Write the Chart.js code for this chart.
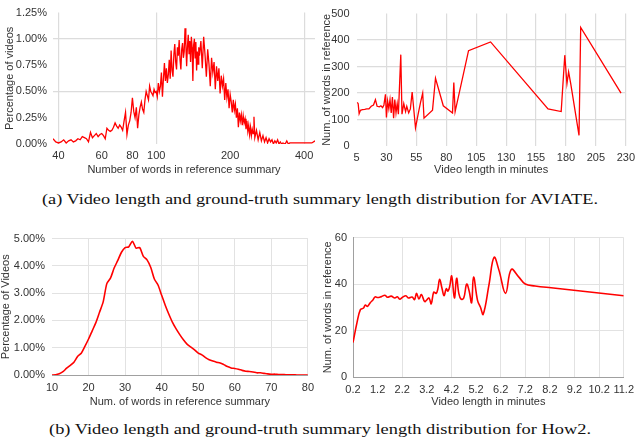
<!DOCTYPE html>
<html><head><meta charset="utf-8">
<script src="https://cdn.jsdelivr.net/npm/chart.js@4.4.1/dist/chart.umd.min.js"></script>
<style>
html,body{margin:0;padding:0;background:#fff;}
body{width:640px;height:439px;position:relative;overflow:hidden;}
canvas{position:absolute;}
.cap{position:absolute;left:0;width:640px;text-align:center;font-family:"Liberation Serif","DejaVu Serif",serif;font-size:15px;color:#111;white-space:nowrap;line-height:1;}
.cap span{display:inline-block;transform-origin:center;}
</style></head><body>
<canvas id="c1" width="320" height="180" style="left:0;top:0"></canvas>
<canvas id="c2" width="322" height="180" style="left:318px;top:0"></canvas>
<div class="cap" id="capA" style="top:192px"><span>(a) Video length and ground-truth summary length distribution for AVIATE.</span></div>
<canvas id="c3" width="320" height="185" style="left:0;top:225px"></canvas>
<canvas id="c4" width="322" height="185" style="left:318px;top:225px"></canvas>
<div class="cap" id="capB" style="top:422px"><span>(b) Video length and ground-truth summary length distribution for How2.</span></div>
<script>
// ---------- (a) left: AVIATE summary length distribution ----------
const aviateWords = [38,39,40,41,42,43,44,45,46,47,48,49,
50,51,52,53,54,55,56,57,58,59,60,61,62,63,64,65,66,67,68,69,
70,71,72,73,74,75,76,77,78,79,80,81,82,83,84,85,86,87,88,89,
90,91,92,93,94,95,96,97,98,99,100,101,102,103,104,105,106,107,108,109,
110,111,112,113,114,115,116,117,118,119,120,121,122,123,124,125,126,127,128,129,
130,131,132,133,134,135,136,137,138,139,140,141,142,143,144,145,146,147,148,149,
150,152,154,156,158,160,162,164,166,168,170,172,174,176,178,180,182,184,186,188,
190,192,194,196,198,200,202,204,206,208,210,212,214,216,218,220,222,224,226,228,
230,232,234,236,238,240,242,244,246,248,250,
252,256,260,264,268,272,276,280,284,288,292,296,300,304,308,312,316,320,324,328,
335,340,345,350,360,370,380,390,400,410,420,430,443];
const aviatePct = [0.05,0.02,0.01,0.02,0.04,0.01,0.03,0.04,0.02,0.03,0.05,0.04,
0.07,0.06,0.05,0.02,0.11,0.06,0.08,0.10,0.07,0.09,0.10,0.08,0.05,0.15,0.13,0.12,0.13,0.16,0.20,0.17,
0.15,0.18,0.16,0.13,0.22,0.30,0.09,0.18,0.22,0.30,0.44,0.31,0.25,0.35,0.15,0.28,0.35,0.40,0.33,0.30,
0.42,0.50,0.46,0.42,0.55,0.50,0.48,0.46,0.52,0.49,0.50,0.45,0.58,0.50,0.55,0.68,0.45,0.62,0.77,0.60,
0.72,0.58,0.66,0.80,0.62,0.89,0.70,0.64,0.85,0.95,0.78,0.71,0.92,0.84,0.99,0.80,0.71,0.90,0.96,0.82,
0.88,1.10,0.95,0.74,0.93,1.04,0.86,0.98,0.78,1.02,0.92,0.60,0.94,1.00,0.82,0.97,0.70,0.88,0.76,0.92,
0.84,0.98,0.72,1.02,0.85,0.64,0.90,0.76,0.55,0.82,0.68,0.78,0.52,0.74,0.60,0.72,0.48,0.65,0.55,0.62,
0.42,0.58,0.44,0.52,0.34,0.47,0.40,0.30,0.42,0.32,0.38,0.25,0.34,0.16,0.30,0.22,0.28,0.18,0.27,0.20,
0.24,0.14,0.22,0.12,0.18,0.09,0.16,0.08,0.14,0.10,0.26,
0.06,0.13,0.04,0.11,0.03,0.08,0.02,0.06,0.01,0.05,0.02,0.04,0.00,0.03,0.01,0.04,0.00,0.02,0.00,0.01,
0.00,0.03,0.00,0.01,0.01,0.01,0.01,0.01,0.01,0.01,0.01,0.01,0.03];
const aviateWordTicks = [40,60,80,100,200,400];
const aviateWordGrid = [40,100,400];

// ---------- (a) right: AVIATE video length vs summary words ----------
const aviateMinutes = [5.6,6.4,7.2,8.3,10,11.9,13.5,15.4,17.3,19.2,20.8,22.2,24.1,25.4,26.8,27.9,
29.2,30,31,32,33,34,35,36,37,38,39,40,42,43,44.5,46,47,48.6,50,51.5,54.3,56.5,58.5,60.3,61.4,
68.5,71,77.5,85.2,86.3,87.4,98.6,117,165,176,179,180.8,182.2,184,190.9,192.3,226];
const aviateRefWords = [165,160,122,135,137,138,140,140,150,155,175,150,148,152,145,155,
195,108,170,140,175,125,185,105,175,125,160,120,345,120,160,130,150,125,140,204,68,120,165,200,105,
135,256,152,125,240,130,360,393,140,130,343,235,280,235,40,448,200];
const aviateMinuteTicks = [5,30,55,80,105,130,155,180,205,230];

// ---------- (b) left: How2 summary length distribution ----------
const how2Words = [10,11,12,13,14,15,16,17,18,19,20,21,22,23,24,25,26,27,28,29,30,31,32,33,34,35,36,37,38,39,
40,41,42,43,44,45,46,47,48,49,50,51,52,53,54,55,56,57,58,59,60,61,62,63,64,65,66,67,68,69,
70,71,72,73,74,75,76,77,78,79,80];
const how2Pct = [0.00,0.01,0.05,0.12,0.25,0.35,0.47,0.68,0.80,1.05,1.32,1.62,1.92,2.30,2.68,3.35,3.55,3.92,4.20,4.50,
4.67,4.70,4.90,4.65,4.67,4.35,4.22,3.95,3.52,3.30,2.92,2.55,2.22,1.92,1.68,1.47,1.28,1.12,1.02,0.92,
0.80,0.74,0.64,0.56,0.51,0.47,0.44,0.38,0.31,0.26,0.24,0.21,0.17,0.14,0.13,0.11,0.08,0.08,0.06,0.04,
0.03,0.03,0.02,0.02,0.01,0.01,0.01,0.00,0.00,0.00,0.00];

// ---------- (b) right: How2 video length vs summary words ----------
const how2Minutes = [0.2,0.36,0.5,0.63,0.7,0.79,0.9,1.0,1.1,1.2,1.35,1.5,1.6,1.75,1.9,2.0,2.1,2.2,2.35,2.45,
2.6,2.7,2.78,2.88,2.98,3.11,3.2,3.29,3.38,3.48,3.58,3.65,3.72,3.82,3.9,3.99,4.06,4.13,4.21,4.32,
4.41,4.5,4.59,4.7,4.82,4.92,5.02,5.1,5.26,5.38,5.49,5.73,5.93,6.13,6.4,6.63,6.94,7.2,7.6,8.25,11.2];
const how2RefWords = [14.8,23.3,29,29.7,31,30.4,32,33,34.5,34.2,34.6,35.2,34.3,34.8,34,34.5,33.5,34.2,35,34,
34.4,33.3,36,33.6,35.5,32.5,33.2,34,31.5,36.5,36,38,42,38,35,38,37,39,43.5,34,
42.5,36,33.5,34,40,37,32,43,33,30,27,40,51.5,46,36,46.3,43,40,39.2,38.4,35];
const how2MinuteTicks = [0.2,1.2,2.2,3.2,4.2,5.2,6.2,7.2,8.2,9.2,10.2,11.2];
const how2MinuteGrid = [2.2,4.2,6.2,7.2,8.2,9.2,10.2,11.2];

// ---------- drawing ----------
Chart.defaults.font.family = '"Liberation Sans", Arial, sans-serif';
Chart.defaults.font.size = 11;
Chart.defaults.color = '#333';
const NONE = 'rgba(0,0,0,0)';
const pts = (xs, ys) => xs.map((x, i) => ({x: x, y: ys[i]}));
const base = (padding) => ({
  responsive: false, animation: false, events: [],
  plugins: {legend: {display: false}, tooltip: {enabled: false}},
  layout: {padding: padding}
});
const ds = (data, w, tension) => ({data: data, borderColor: '#ff0000', borderWidth: w,
  pointRadius: 0, tension: tension, fill: false});

// (a) left
new Chart(document.getElementById('c1'), {
  type: 'line',
  data: {datasets: [ds(pts(aviateWords, aviatePct), 1.3, 0)]},
  options: Object.assign(base({left: 0, right: 5, top: 8, bottom: 0}), {
    scales: {
      x: {type: 'logarithmic', min: 38, max: 443,
        afterBuildTicks: s => { s.ticks = aviateWordTicks.map(v => ({value: v})); },
        ticks: {autoSkip: false, maxRotation: 0, padding: 5, callback: v => String(v)},
        grid: {drawTicks: false, lineWidth: 1.2, color: c => (c.tick && aviateWordGrid.includes(c.tick.value)) ? '#dcdcdc' : NONE},
        border: {display: false},
        title: {display: true, text: 'Number of words in reference summary', padding: {top: 0, bottom: 3.4}},
        afterFit: s => { s.height = 36; }},
      y: {min: 0, max: 1.25,
        ticks: {stepSize: 0.25, padding: 6, callback: v => v.toFixed(2) + '%'},
        grid: {drawTicks: false, lineWidth: 1.2, color: c => (c.tick && c.tick.value > 0.01 && c.tick.value < 1.2 && Math.round(c.tick.value * 100) % 50 === 0) ? '#dcdcdc' : NONE},
        border: {display: false},
        title: {display: true, text: 'Percentage of videos', padding: {top: 3.4, bottom: 0}},
        afterFit: s => { s.width = 53; }}
    }
  })
});

// (a) right
new Chart(document.getElementById('c2'), {
  type: 'line',
  data: {datasets: [ds(pts(aviateMinutes, aviateRefWords), 1.3, 0)]},
  options: Object.assign(base({left: 0, right: 9, top: 4, bottom: 0}), {
    scales: {
      x: {type: 'linear', min: 5, max: 230,
        afterBuildTicks: s => { s.ticks = aviateMinuteTicks.map(v => ({value: v})); },
        ticks: {autoSkip: false, maxRotation: 0, padding: 5, callback: v => String(v)},
        grid: {drawTicks: false, lineWidth: 1.2, color: c => (c.tick && c.tick.value > 5) ? '#dcdcdc' : NONE},
        border: {display: false},
        title: {display: true, text: 'Video length in minutes', padding: {top: 0, bottom: 3.4}},
        afterFit: s => { s.height = 34; }},
      y: {min: 0, max: 500,
        ticks: {stepSize: 100, padding: 7},
        grid: {drawTicks: false, lineWidth: 1.2, color: c => (c.tick && c.tick.value > 0 && c.tick.value < 500) ? '#dcdcdc' : NONE},
        border: {display: false},
        title: {display: true, text: 'Num. of words in reference', padding: {top: 2.4, bottom: 0}},
        afterFit: s => { s.width = 38.5; }}
    }
  })
});

// (b) left
new Chart(document.getElementById('c3'), {
  type: 'line',
  data: {datasets: [ds(pts(how2Words, how2Pct), 1.6, 0.25)]},
  options: Object.assign(base({left: 0, right: 8, top: 12, bottom: 0}), {
    scales: {
      x: {type: 'linear', min: 10, max: 80,
        ticks: {stepSize: 10, autoSkip: false, maxRotation: 0, padding: 6},
        grid: {drawTicks: false, color: c => (c.tick && c.tick.value > 10) ? '#e2e2e2' : NONE},
        border: {display: true, color: '#a0a0a0', width: 1},
        title: {display: true, text: 'Num. of words in reference summary', padding: {top: 0, bottom: 1.4}},
        afterFit: s => { s.height = 35; }},
      y: {min: 0, max: 5,
        ticks: {stepSize: 1, padding: 7, callback: v => v.toFixed(2) + '%'},
        grid: {drawTicks: false, color: c => (c.tick && c.tick.value > 0) ? '#e2e2e2' : NONE},
        border: {display: false},
        title: {display: true, text: 'Percentage of Videos', font: {lineHeight: 1}, padding: {top: 0, bottom: 0}},
        afterFit: s => { s.width = 52; }}
    }
  })
});

// (b) right
new Chart(document.getElementById('c4'), {
  type: 'line',
  data: {datasets: [ds(pts(how2Minutes, how2RefWords), 1.6, 0.4)]},
  options: Object.assign(base({left: 0, right: 13, top: 10, bottom: 0}), {
    scales: {
      x: {type: 'linear', min: 0.2, max: 11.2,
        afterBuildTicks: s => { s.ticks = how2MinuteTicks.map(v => ({value: v})); },
        ticks: {autoSkip: false, maxRotation: 0, padding: 6, callback: v => Number(v).toFixed(1)},
        grid: {drawTicks: false, color: c => (c.tick && how2MinuteGrid.includes(c.tick.value)) ? '#e2e2e2' : NONE},
        border: {display: true, color: '#a0a0a0', width: 1},
        title: {display: true, text: 'Video length in minutes', padding: {top: 0, bottom: 1.4}},
        afterFit: s => { s.height = 33; }},
      y: {min: 0, max: 60,
        ticks: {stepSize: 20, padding: 6},
        grid: {drawTicks: false, color: c => (c.tick && c.tick.value > 0) ? '#e2e2e2' : NONE},
        border: {display: true, color: '#a0a0a0', width: 1},
        title: {display: true, text: 'Num. of words in reference', padding: {top: 3, bottom: 0}},
        afterFit: s => { s.width = 35; }}
    }
  })
});

// captions: stretch horizontally to the reference width
function fitCap(id, target) {
  const s = document.querySelector('#' + id + ' span');
  const w = s.getBoundingClientRect().width;
  if (w > 0) s.style.transform = 'scaleX(' + (target / w) + ')';
}
fitCap('capA', 556);
fitCap('capB', 542);
</script>
</body></html>
